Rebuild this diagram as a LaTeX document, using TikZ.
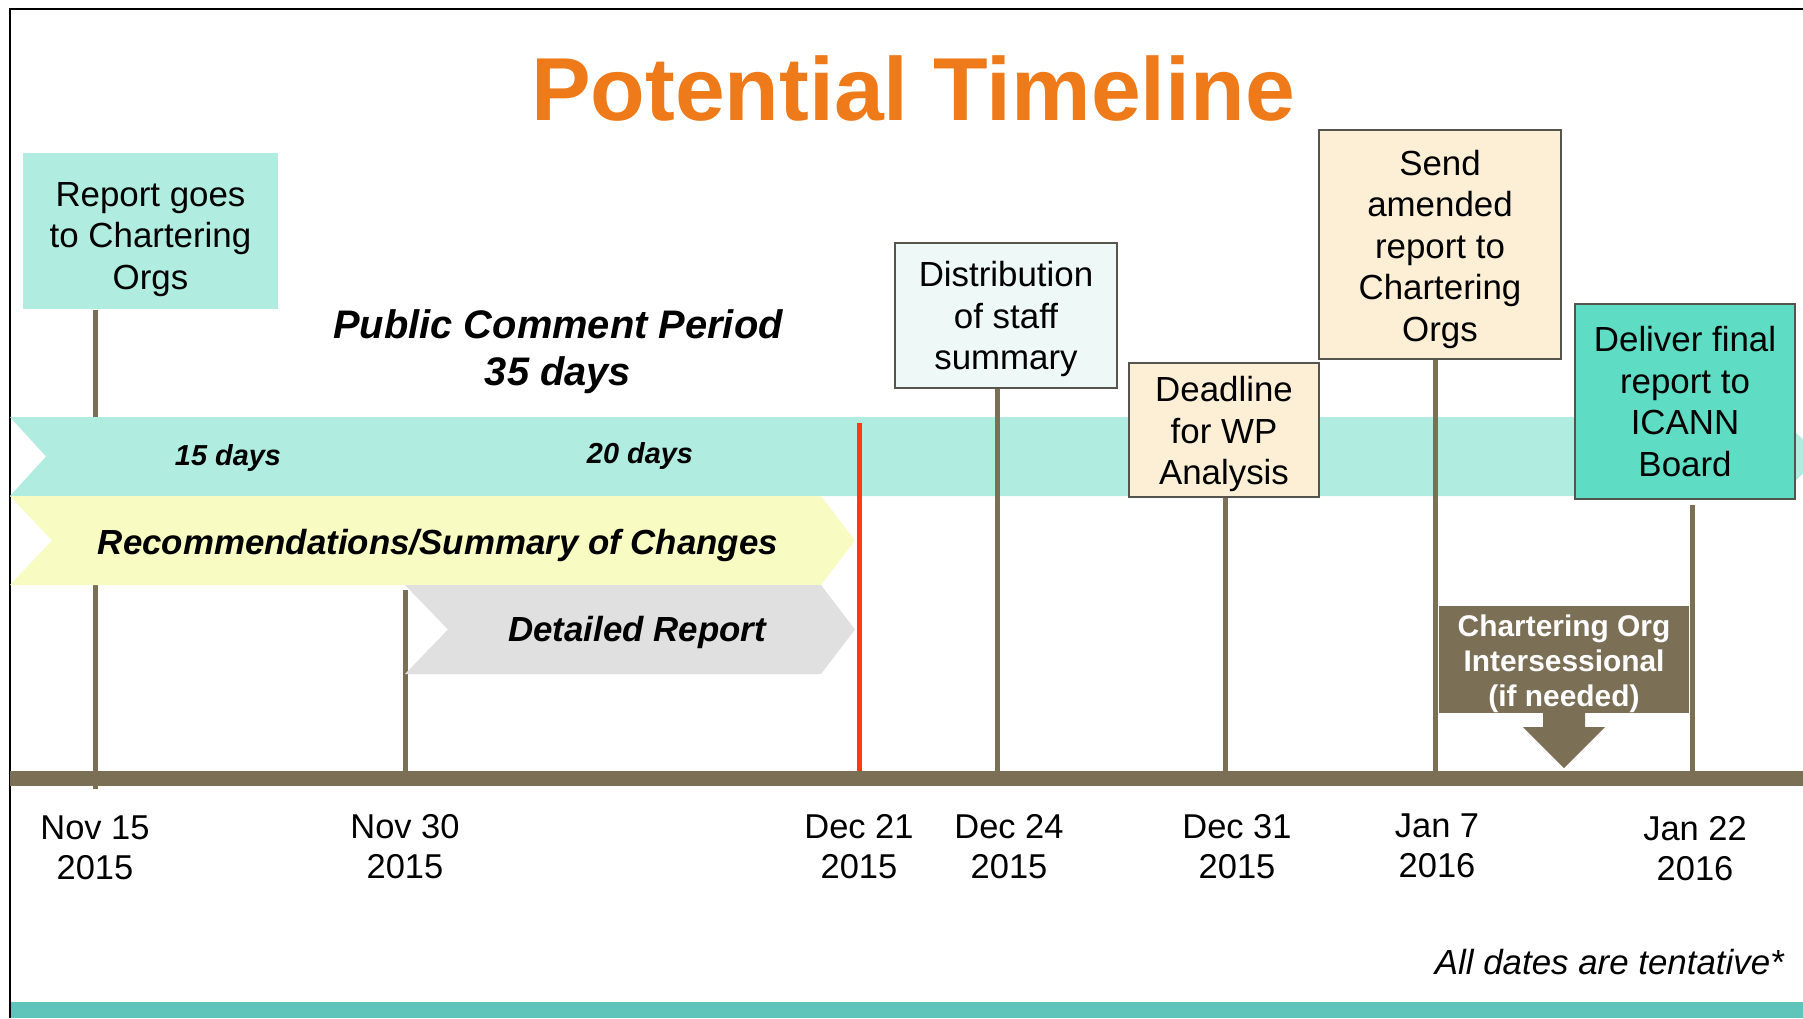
\documentclass[tikz,border=0pt]{standalone}
\usepackage{fontspec}
\setmainfont{Liberation Sans}
\definecolor{bandteal}{HTML}{B0ECDF}
\definecolor{bandyellow}{HTML}{F8FCC2}
\definecolor{bandgray}{HTML}{E0E0E0}
\definecolor{tlbrown}{HTML}{7B7056}
\definecolor{titleorange}{HTML}{EE7A1A}
\definecolor{redline}{HTML}{FF3A14}
\definecolor{peach}{HTML}{FDEFD6}
\definecolor{paleteal}{HTML}{EEF8F6}
\definecolor{midteal}{HTML}{5EDCC4}
\definecolor{bottomteal}{HTML}{5FC4B9}
\definecolor{boxedge}{HTML}{55554D}
\newcommand{\topstrut}[1]{\rule{0pt}{#1bp}}
\begin{document}
\begin{tikzpicture}[x=1bp,y=-1bp,
  stemline/.style={draw=tlbrown,line width=5bp},
  evbox/.style={inner sep=0pt,align=center,font=\fontsize{35}{41.7}\selectfont,line width=1.5bp},
  datelbl/.style={anchor=north,inner sep=0pt,align=center,font=\fontsize{34.6}{40}\selectfont},
  bandtxt/.style={inner sep=0pt,anchor=base,font=\bfseries\itshape\fontsize{35}{40}\selectfont},
  daytxt/.style={inner sep=0pt,anchor=base,font=\bfseries\itshape\fontsize{29}{34}\selectfont}
]
\useasboundingbox (0,0) rectangle (1803,1018);
\clip (0,0) rectangle (1803,1018);
\fill[white] (0,0) rectangle (1803,1018);
% bottom bar and frame
\fill[bottomteal] (10,1002) rectangle (1803,1018);
\draw[black,line width=2bp] (10,1018) -- (10,9) -- (1803,9);

% title
\node[anchor=base,inner sep=0pt,text=titleorange,font=\bfseries\fontsize{89.8}{100}\selectfont] (title) at (913,120) {Potential Timeline};

% first box and stems behind the bands
\node[evbox,fill=bandteal,minimum width=255bp,minimum height=156bp] (b1) at (150.5,231) {\topstrut{41}Report goes\\to Chartering\\Orgs};
\coordinate (n15) at (95,789);
\coordinate (n30top) at (405,590);
\coordinate (n30) at (405,778);
\draw[stemline] (b1.south -| n15) -- (n15);
\draw[stemline] (n30top) -- (n30);

% bands
\fill[bandteal] (10,417) -- (1780,417) -- (1820,456.5) -- (1780,496) -- (10,496) -- (46,456.5) -- cycle;
\fill[bandyellow] (10,496) -- (821,496) -- (855,540.5) -- (821,585) -- (10,585) -- (52,540.5) -- cycle;
\fill[bandgray] (405,585) -- (821,585) -- (855,629.5) -- (821,674) -- (405,674) -- (448,629.5) -- cycle;

\node[font=\bfseries\itshape\fontsize{40}{47}\selectfont,anchor=north,inner sep=0pt,align=center] (pcp) at (558,309.5) {Public Comment Period\\35 days};
\node[daytxt] (d15) at (228,465) {15 days};
\node[daytxt] (d20) at (640,463) {20 days};
\node[bandtxt] (rec) at (438,554) {Recommendations/Summary of Changes};
\node[bandtxt] (det) at (637,641) {Detailed Report};

% event boxes
\node[evbox,draw=boxedge,fill=paleteal,minimum width=222bp,minimum height=145bp] (b2) at (1006,315.5) {\topstrut{33}Distribution\\of staff\\summary};
\node[evbox,draw=boxedge,fill=peach,minimum width=190bp,minimum height=134bp] (b3) at (1224,430) {\topstrut{34}Deadline\\for WP\\Analysis};
\node[evbox,draw=boxedge,fill=peach,minimum width=242bp,minimum height=229bp] (b4) at (1440,244.5) {\topstrut{35}Send\\amended\\report to\\Chartering\\Orgs};
\node[evbox,draw=boxedge,fill=midteal,minimum width=220bp,minimum height=195bp] (b5) at (1685,401.5) {Deliver final\\report to\\ICANN\\Board};

% timeline points
\coordinate (t21top) at (859,423);
\coordinate (t21) at (859,774);
\coordinate (t24) at (997,778);
\coordinate (t31) at (1225,778);
\coordinate (tj7) at (1435,778);
\coordinate (tj22) at (1692,778);
\coordinate (tlstart) at (10,778.5);
\coordinate (tlend) at (1803,778.5);

\draw[stemline] (b2.south -| t24) -- (t24);
\draw[stemline] (b3.south -| t31) -- (t31);
\draw[stemline] (b4.south -| tj7) -- (tj7);
\draw[stemline] ([yshift=-5bp]b5.south -| tj22) -- (tj22);
\draw[draw=redline,line width=5bp] (t21top) -- (t21);
\draw[draw=tlbrown,line width=15bp] (tlstart) -- (tlend);

% intersessional box and arrow
\node[fill=tlbrown,inner sep=0pt,minimum width=250bp,minimum height=107bp,align=center,text=white,font=\bfseries\fontsize{30}{35}\selectfont] (ib) at (1564,659.5) {\topstrut{30}Chartering Org\\Intersessional\\(if needed)};
\fill[tlbrown] (ib.south) ++(-21,-1) -- ++(0,15) -- ++(-20,0) -- ++(41,41) -- ++(41,-41) -- ++(-20,0) -- ++(0,-15) -- cycle;

% date labels
\node[datelbl] (l1) at (95,815.5) {Nov 15\\2015};
\node[datelbl] (l2) at (405,814) {Nov 30\\2015};
\node[datelbl] (l3) at (859,814) {Dec 21\\2015};
\node[datelbl] (l4) at (1009,814) {Dec 24\\2015};
\node[datelbl] (l5) at (1237,814) {Dec 31\\2015};
\node[datelbl] (l6) at (1437,814) {Jan 7\\2016};
\node[datelbl] (l7) at (1695,816.5) {Jan 22\\2016};

\node[anchor=base east,inner sep=0pt,font=\itshape\fontsize{35}{40}\selectfont] (tent) at (1784,974) {All dates are tentative*};
\end{tikzpicture}
\end{document}
